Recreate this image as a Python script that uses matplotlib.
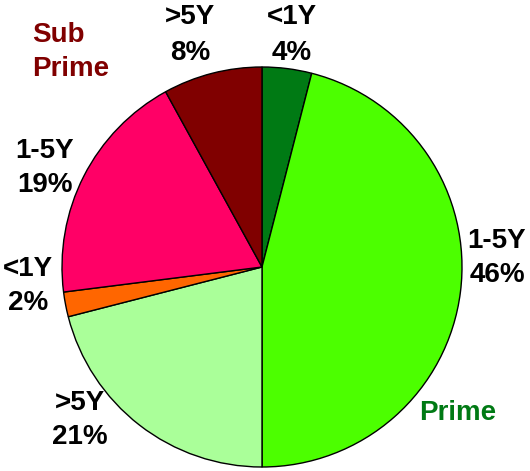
import matplotlib.pyplot as plt

# ── data ──────────────────────────────────────────────────────────────────────
terms = ["<1Y", "1-5Y", ">5Y", "<1Y", "1-5Y", ">5Y"]
shares = [4, 46, 21, 2, 19, 8]
colors = ["#007A14", "#4CFF00", "#AAFF99", "#FF6600", "#FF0066", "#800000"]

# label centres in pixels (x, y from top)
label_pos = [(292, 35), (497, 258), (80, 420), (28, 286), (45, 168), (190, 35)]

# ── plot ──────────────────────────────────────────────────────────────────────
W, H = 530, 471
fig = plt.figure(figsize=(W / 100, H / 100), dpi=100)
ax = fig.add_axes([0, 0, 1, 1])

ax.pie(shares, colors=colors, startangle=90, counterclock=False,
       center=(262, H - 267), radius=200,
       wedgeprops=dict(edgecolor="black", linewidth=1.0))
ax.set_xlim(0, W)
ax.set_ylim(0, H)
ax.set_aspect("equal")
ax.axis("off")

font = dict(family="Liberation Sans", weight="bold", fontsize=20)
for t, s, (x, y) in zip(terms, shares, label_pos):
    ax.text(x, H - y, f"{t}\n{s}%", ha="center", va="center",
            linespacing=1.45, **font)

ax.text(32, H - 52, "Sub\nPrime", ha="left", va="center", color="#800000",
        linespacing=1.35, **font)
ax.text(458, H - 413, "Prime", ha="center", va="center", color="#007A14", **font)

fig.savefig("out.png", dpi=100)
